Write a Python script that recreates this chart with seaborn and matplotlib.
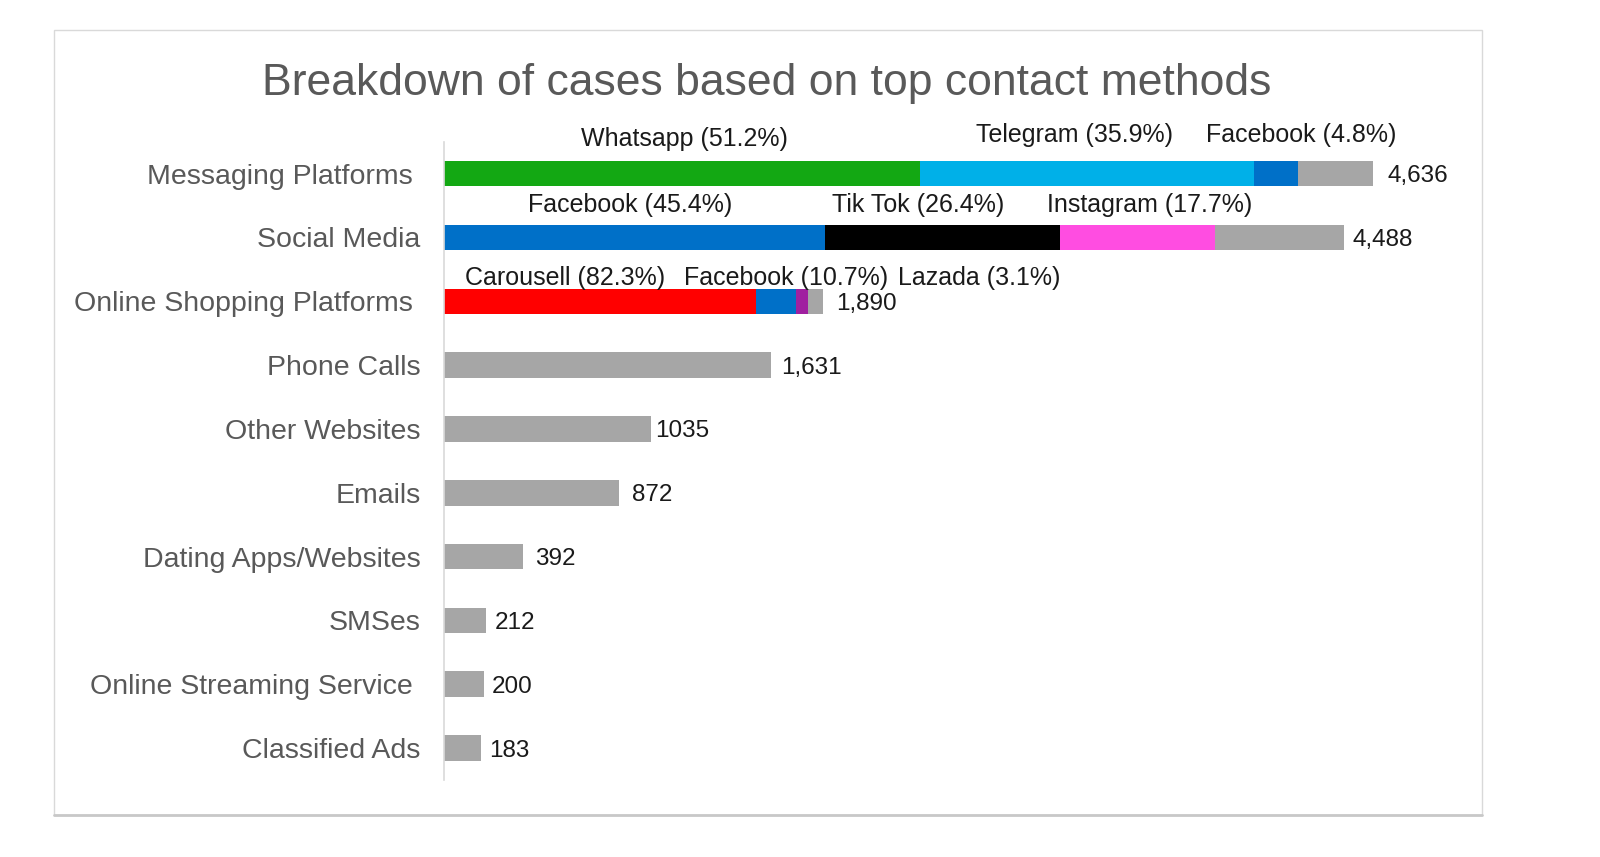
import numpy as np
import pandas as pd
import matplotlib
matplotlib.use("Agg")
import matplotlib.pyplot as plt
import seaborn as sns
from matplotlib.patches import Rectangle
from matplotlib.lines import Line2D

# ---- data ----
categories = ["Messaging Platforms", "Social Media", "Online Shopping Platforms",
              "Phone Calls", "Other Websites", "Emails", "Dating Apps/Websites",
              "SMSes", "Online Streaming Service", "Classified Ads"]
totals = [4636, 4488, 1890, 1631, 1035, 872, 392, 212, 200, 183]
total_labels = ["4,636", "4,488", "1,890", "1,631", "1035", "872", "392", "212", "200", "183"]

# breakdown of the three top rows (remainder stays grey)
stacked_rows = ["Messaging Platforms", "Social Media", "Online Shopping Platforms"]
messaging_parts = [2374, 1664, 223]
social_parts = [1900, 1174, 773]
shopping_parts = [1555, 202, 59]
messaging_names = ["Whatsapp (51.2%)", "Telegram (35.9%)", "Facebook (4.8%)"]
social_names = ["Facebook (45.4%)", "Tik Tok (26.4%)", "Instagram (17.7%)"]
shopping_names = ["Carousell (82.3%)", "Facebook (10.7%)", "Lazada (3.1%)"]

# ---- styling / layout ----
messaging_colors = ["#13A813", "#00B0E8", "#0070C8"]
social_colors = ["#0070C8", "#000000", "#FF4DE1"]
shopping_colors = ["#FF0000", "#0070C8", "#A020A0"]
grey = "#A6A6A6"
name_x = [[1201, 3143, 4275], [927, 2363, 3522], [604, 1704, 2670]]
name_dy = [[0.44, 0.50, 0.50], [0.40, 0.40, 0.40], [0.26, 0.26, 0.26]]
value_pad_px = [14, 9, 13, 10, 4, 13, 12, 8, 8, 8]
# a few labels in the source sit a little further from the axis
label_trailing = ["Messaging Platforms", "Online Shopping Platforms", "Online Streaming Service"]

sns.set_theme(style="white")
plt.rcParams["font.family"] = ["Liberation Sans", "DejaVu Sans"]

fig = plt.figure(figsize=(16, 8.57), dpi=100)
ax = fig.add_axes([444 / 1600, 1 - 780 / 857, 0.639, (780 - 141.7) / 857])

# grey total bars
df_tot = pd.DataFrame({"category": categories, "value": totals})
sns.barplot(data=df_tot, x="value", y="category", order=categories, color=grey,
            saturation=1, width=0.4, linewidth=0, ax=ax)

# stacked segments drawn as cumulative layers, largest first
parts = [messaging_parts, social_parts, shopping_parts]
colors = [messaging_colors, social_colors, shopping_colors]
for k in range(3, 0, -1):
    cum = [sum(p[:k]) for p in parts]
    pal = {row: c[k - 1] for row, c in zip(stacked_rows, colors)}
    df_layer = pd.DataFrame({"category": stacked_rows, "value": cum})
    sns.barplot(data=df_layer, x="value", y="category", order=categories,
                hue="category", hue_order=stacked_rows, palette=pal, legend=False,
                saturation=1, width=0.4, linewidth=0, ax=ax)

ax.set_xlim(0, 5100)
ax.set_ylim(len(categories) - 0.5, -0.5)

# segment names above the stacked bars
all_names = [messaging_names, social_names, shopping_names]
for i, names in enumerate(all_names):
    for j, name in enumerate(names):
        ax.text(name_x[i][j], i - name_dy[i][j], name, ha="center", va="baseline",
                fontsize=18, color="#1a1a1a")

# totals at bar ends
for i, (v, lab) in enumerate(zip(totals, total_labels)):
    ax.annotate(lab, xy=(v, i), xytext=(value_pad_px[i] * 0.72, 0),
                textcoords="offset points", ha="left", va="center_baseline",
                fontsize=17.5, color="#1a1a1a")

# axes cosmetics
for s in ["top", "right", "bottom"]:
    ax.spines[s].set_visible(False)
ax.spines["left"].set_color("#D9D9D9")
ax.spines["left"].set_linewidth(1.2)
ax.set_xticks([])
ax.set_xlabel("")
ax.set_ylabel("")
ax.set_yticks(range(len(categories)))
ax.set_yticklabels([c + " " if c in label_trailing else c for c in categories])
ax.tick_params(axis="y", length=0, pad=17, labelsize=20.5, labelcolor="#595959")

# title
fig.text(767 / 1600, 1 - 95 / 857, "Breakdown of cases based on top contact methods",
         ha="center", va="baseline", fontsize=32, color="#595959")

# chart frame
fig.patches.append(Rectangle((54 / 1600, 1 - 815 / 857), (1482 - 54) / 1600, (815 - 30) / 857,
                             transform=fig.transFigure, fill=False,
                             edgecolor="#D9D9D9", linewidth=1))
fig.lines.append(Line2D([54 / 1600, 1482 / 1600], [1 - 815 / 857, 1 - 815 / 857],
                        transform=fig.transFigure, color="#C8C8C8", linewidth=2))

fig.savefig("out.png", dpi=100)
